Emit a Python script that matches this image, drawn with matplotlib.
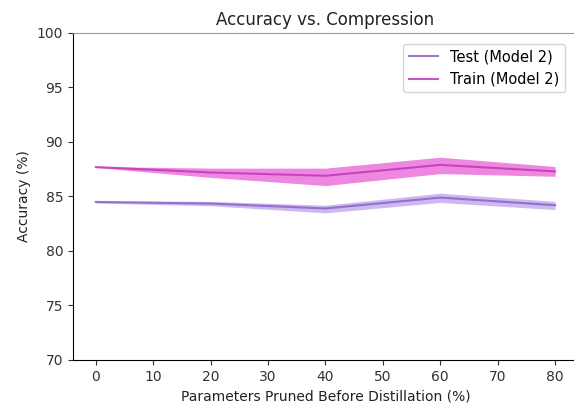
import matplotlib
matplotlib.use("Agg")
import matplotlib.pyplot as plt
import numpy as np

# Data
pruned = [0, 20, 40, 60, 80]

test_mean = [84.5, 84.35, 83.9, 84.9, 84.2]
test_low = [84.4, 84.15, 83.5, 84.45, 83.8]
test_high = [84.6, 84.55, 84.2, 85.3, 84.55]

train_mean = [87.7, 87.2, 86.9, 87.9, 87.3]
train_low = [87.65, 86.75, 86.0, 87.1, 86.85]
train_high = [87.75, 87.6, 87.6, 88.6, 87.75]

test_color = "#8A62C8"
train_color = "#BE38B8"

fig = plt.figure(figsize=(5.74, 4.07), dpi=100)
ax = fig.add_axes([0.127, 0.1155, 0.88, 0.8035])

ax.fill_between(pruned, test_low, test_high, color="#B99AEB", alpha=0.7, linewidth=0)
ax.plot(pruned, test_mean, color=test_color, alpha=0.85, linewidth=1.5, label="Test (Model 2)")
ax.fill_between(pruned, train_low, train_high, color="#EC72DA", alpha=0.85, linewidth=0)
ax.plot(pruned, train_mean, color=train_color, alpha=0.85, linewidth=1.5, label="Train (Model 2)")

ax.set_ylim(70, 100)
ax.set_xlim(-4, 84)
ax.set_xticks(np.arange(0, 81, 10))
ax.set_yticks(np.arange(70, 101, 5))
ax.tick_params(labelsize=10, colors="#333333")
for side in ["top", "right"]:
    ax.spines[side].set_color("#999999")
ax.set_xlabel("Parameters Pruned Before Distillation (%)", fontsize=10, color="#222222")
ax.set_ylabel("Accuracy (%)", fontsize=10, color="#222222")
ax.set_title("Accuracy vs. Compression", fontsize=12, color="#222222")
ax.legend(loc="upper right", fontsize=10.5, bbox_to_anchor=(0.988, 0.99))

fig.savefig("out.png", dpi=100)
